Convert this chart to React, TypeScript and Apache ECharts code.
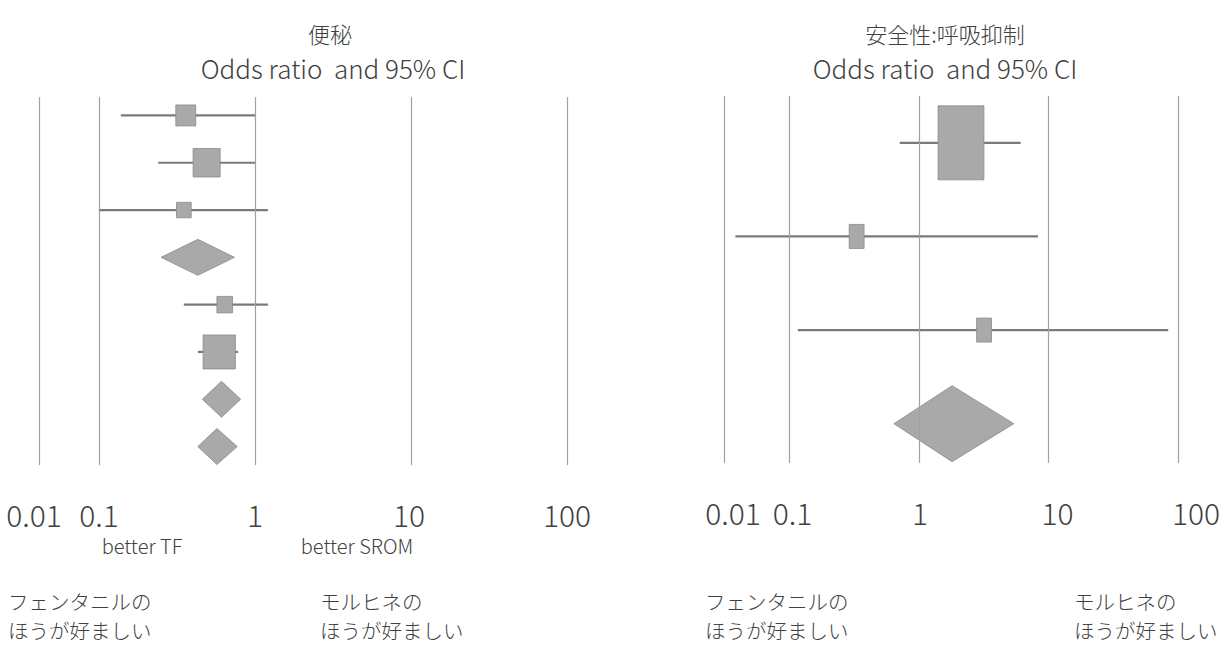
import React, { useEffect, useRef } from "react";
import * as echarts from "echarts";

// ---------- data ----------
const tickValues = [0.01, 0.1, 1, 10, 100];
const tickLabels = ["0.01", "0.1", "1", "10", "100"];

const subtitleText = "Odds ratio  and 95% CI";

// Left panel: 便秘
const leftTitle = "便秘";
const leftKind = ["box", "box", "box", "diamond", "box", "box", "diamond", "diamond"];
const leftOR = [0.36, 0.49, 0.35, 0.43, 0.64, 0.59, 0.61, 0.57];
const leftLo = [0.138, 0.24, 0.099, 0.25, 0.35, 0.43, 0.46, 0.43];
const leftHi = [1.0, 1.0, 1.21, 0.74, 1.21, 0.78, 0.81, 0.77];
const leftWeight = [15.1, 27.8, 8.2, 0, 9.3, 39.6, 0, 0];

// Right panel: 安全性:呼吸抑制
const rightTitle = "安全性:呼吸抑制";
const rightKind = ["box", "box", "box", "diamond"];
const rightOR = [2.11, 0.33, 3.18, 1.8];
const rightLo = [0.71, 0.0145, 0.116, 0.64];
const rightHi = [6.1, 8.3, 84, 5.4];
const rightWeight = [82.6, 8.7, 8.7, 0];

const betterLeft = "better TF";
const betterRight = "better SROM";
const prefFentanyl = ["フェンタニルの", "ほうが好ましい"];
const prefMorphine = ["モルヒネの", "ほうが好ましい"];

// ---------- styles ----------
const JP = '"Noto Sans CJK JP", "Noto Sans", sans-serif';
const TXT = "#404040";
const GRID_LINE = "#a0a0a0";
const BOX_FILL = "#a9a9a9";
const BOX_STROKE = "#8a8a8a";
const WHISKER = "#7a7a7a";
const LIGHT = 300;
const PAD = 0.1; // extra axis room (in decades) left and right of 0.01 / 100

// axis transform: log scale, with the 0.01–0.1 decade compressed by factor c
const makeT = (c: number) => (v: number) => {
  const l = Math.log10(v);
  return l >= -1 ? l : -1 - c * (-1 - l);
};

type Panel = {
  kind: string[];
  or: number[];
  lo: number[];
  hi: number[];
  weight: number[];
  c: number;
  x0: number; // pixel of 0.01 line
  decade: number; // pixels per decade
  top: number;
  height: number;
  yMin: number;
  yMax: number;
  boxK: number;
  aspect: number;
  diamondHalf: number;
  labelShift: number[];
};

const panels: Panel[] = [
  {
    kind: leftKind, or: leftOR, lo: leftLo, hi: leftHi, weight: leftWeight,
    c: 0.378, x0: 40, decade: 156, top: 97, height: 368,
    yMin: -0.39, yMax: 7.39, boxK: 5.4, aspect: 0.95, diamondHalf: 18,
    labelShift: [-6, 0, 0, -2, 0],
  },
  {
    kind: rightKind, or: rightOR, lo: rightLo, hi: rightHi, weight: rightWeight,
    c: 0.498, x0: 725, decade: 129.5, top: 96, height: 367,
    yMin: -0.5, yMax: 3.42, boxK: 8.14, aspect: 0.62, diamondHalf: 38,
    labelShift: [8, 3, 1, 9, 18],
  },
];

function buildOption() {
  const grid: any[] = [];
  const xAxis: any[] = [];
  const yAxis: any[] = [];
  const series: any[] = [];

  panels.forEach((p, pi) => {
    const t = makeT(p.c);
    const span = 3 + p.c + 2 * PAD;
    grid.push({
      left: p.x0 - PAD * p.decade,
      width: span * p.decade,
      top: p.top,
      height: p.height,
      containLabel: false,
    });
    const tickPos = tickValues.map(t);
    const rich: any = {};
    p.labelShift.forEach((s, k) => {
      rich["s" + k] = {
        fontSize: 30,
        fontWeight: LIGHT,
        fontFamily: JP,
        color: TXT,
        padding: s >= 0 ? [0, 0, 0, 2 * s] : [0, -2 * s, 0, 0],
      };
    });
    xAxis.push({
      type: "value",
      gridIndex: pi,
      min: t(0.01) - PAD,
      max: t(100) + PAD,
      axisLine: { show: false },
      axisTick: { show: false },
      splitLine: { show: false },
      axisLabel: {
        customValues: tickPos,
        margin: 34,
        fontSize: 30,
        fontWeight: LIGHT,
        fontFamily: JP,
        color: TXT,
        rich,
        formatter: (v: number) => {
          const i = tickPos.findIndex((q) => Math.abs(q - v) < 1e-6);
          return i >= 0 ? "{s" + i + "|" + tickLabels[i] + "}" : "";
        },
      },
    });
    yAxis.push({
      type: "value",
      gridIndex: pi,
      inverse: true,
      min: p.yMin,
      max: p.yMax,
      show: false,
    });

    // vertical reference lines
    series.push({
      type: "line",
      xAxisIndex: pi,
      yAxisIndex: pi,
      data: [],
      silent: true,
      markLine: {
        silent: true,
        symbol: "none",
        label: { show: false },
        lineStyle: { color: GRID_LINE, type: "solid", width: 1.2 },
        data: tickPos.map((x) => ({ xAxis: x })),
      },
    });

    const data = p.or.map((v, i) => [i, t(v), t(p.lo[i]), t(p.hi[i])]);
    series.push({
      type: "custom",
      xAxisIndex: pi,
      yAxisIndex: pi,
      encode: { x: [1, 2, 3], y: 0 },
      data,
      renderItem: (params: any, api: any) => {
        const i = params.dataIndex;
        const row = api.value(0);
        const cp = api.coord([api.value(1), row]);
        const lp = api.coord([api.value(2), row]);
        const hp = api.coord([api.value(3), row]);
        if (p.kind[i] === "diamond") {
          const h = p.diamondHalf;
          return {
            type: "polygon",
            shape: {
              points: [
                [lp[0], cp[1]],
                [cp[0], cp[1] - h],
                [hp[0], cp[1]],
                [cp[0], cp[1] + h],
              ],
            },
            style: { fill: BOX_FILL, stroke: BOX_STROKE, lineWidth: 0.8 },
          };
        }
        const hgt = p.boxK * Math.sqrt(p.weight[i]);
        const wid = hgt * p.aspect;
        return {
          type: "group",
          children: [
            {
              type: "line",
              shape: { x1: lp[0], y1: cp[1], x2: hp[0], y2: cp[1] },
              style: { stroke: WHISKER, lineWidth: 2.2 },
            },
            {
              type: "rect",
              shape: { x: cp[0] - wid / 2, y: cp[1] - hgt / 2, width: wid, height: hgt },
              style: { fill: BOX_FILL, stroke: BOX_STROKE, lineWidth: 0.8 },
            },
          ],
        };
      },
    });
  });

  const txt = (text: string, x: number, y: number, size: number, align = "center") => ({
    type: "text",
    x,
    y,
    style: {
      text,
      fontSize: size,
      fontWeight: LIGHT,
      fontFamily: JP,
      fill: TXT,
      align,
      textAlign: align,
      verticalAlign: "middle",
      textVerticalAlign: "middle",
    },
  });

  const graphic = [
    txt(leftTitle, 330, 33, 22),
    txt(subtitleText, 333, 67, 26),
    txt(rightTitle, 945, 33, 22),
    txt(subtitleText, 945, 67, 26),
    txt(betterLeft, 142, 545, 20),
    txt(betterRight, 357, 545, 20),
    txt(prefFentanyl[0], 8, 601, 20.5, "left"),
    txt(prefFentanyl[1], 8, 630, 20.5, "left"),
    txt(prefMorphine[0], 320, 601, 20.5, "left"),
    txt(prefMorphine[1], 320, 630, 20.5, "left"),
    txt(prefFentanyl[0], 705, 601, 20.5, "left"),
    txt(prefFentanyl[1], 705, 630, 20.5, "left"),
    txt(prefMorphine[0], 1074, 601, 20.5, "left"),
    txt(prefMorphine[1], 1074, 630, 20.5, "left"),
  ];

  return {
    animation: false,
    backgroundColor: "#ffffff",
    grid,
    xAxis,
    yAxis,
    series,
    graphic,
  };
}

export default function App() {
  const ref = useRef<HTMLDivElement>(null);
  useEffect(() => {
    document.body.style.margin = "0";
    if (!ref.current) return;
    const chart = echarts.init(ref.current, undefined, { renderer: "svg" });
    chart.setOption(buildOption() as any);
    return () => chart.dispose();
  }, []);
  return <div ref={ref} style={{ width: 1225, height: 645 }} />;
}
